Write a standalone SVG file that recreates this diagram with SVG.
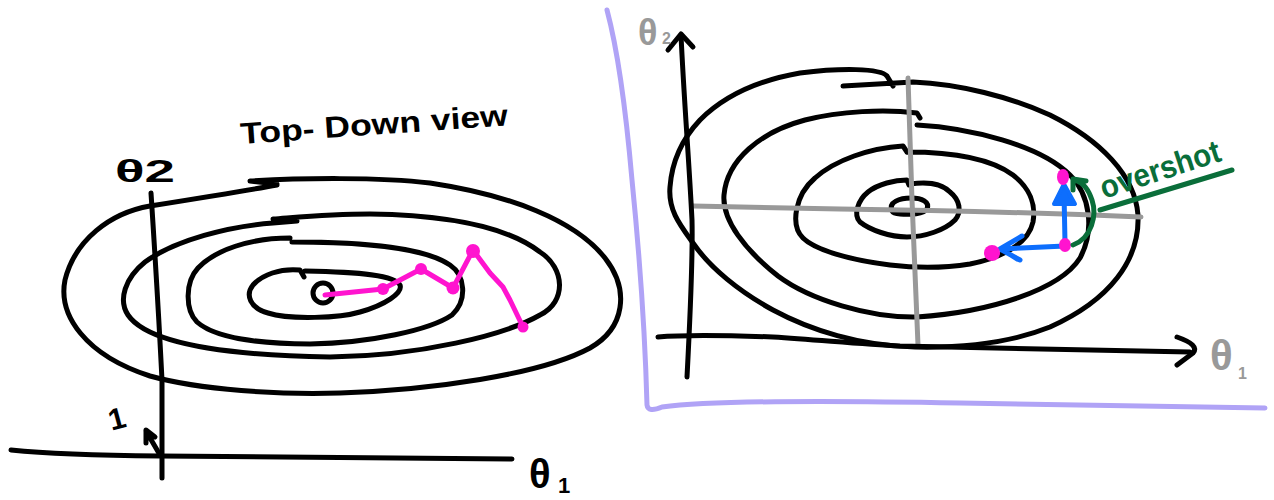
<svg xmlns="http://www.w3.org/2000/svg" width="1274" height="500" viewBox="0 0 1274 500">
<style>
.ink{fill:none;stroke:#000;stroke-width:5;stroke-linecap:round;stroke-linejoin:round}
.gray{fill:none;stroke:#999;stroke-width:5;stroke-linecap:round;stroke-linejoin:round}
.mag{fill:none;stroke:#ff14cf;stroke-width:5;stroke-linecap:round;stroke-linejoin:round}
.dot{fill:#ff14cf}
.blue{fill:none;stroke:#0d6efd;stroke-width:5;stroke-linecap:round;stroke-linejoin:round}
.green{fill:none;stroke:#0a6e3a;stroke-width:5;stroke-linecap:round;stroke-linejoin:round}
.purple{fill:none;stroke:#b0a3f6;stroke-width:5;stroke-linecap:round;stroke-linejoin:round}
.hand{font-family:"Liberation Sans","DejaVu Sans",sans-serif;font-weight:bold}
</style>
<rect width="1274" height="500" fill="#fff"/>

<!-- LEFT PANEL -->
<g id="left-contours">
<path class="ink" d="M 277 185 C 250 190, 200 198, 150 206 C 110 213, 75 240, 65 280 C 58 315, 85 355, 150 376 C 200 390, 280 395, 340 393 C 430 390, 540 375, 590 348 C 625 328, 630 290, 605 258 C 575 220, 510 195, 430 183 C 380 177, 300 178, 250 181 L 277 184"/>
<path class="ink" d="M 297 221 L 273 223 C 230 226, 175 240, 145 262 C 125 278, 118 300, 128 315 C 145 340, 210 355, 330 357 C 420 356, 505 335, 540 315 C 567 302, 565 268, 540 252 C 505 225, 440 215, 370 214 C 330 214, 300 217, 273 219"/>
<path class="ink" d="M 290 238 C 250 238, 215 250, 198 268 C 185 282, 185 310, 197 322 C 215 338, 260 344, 310 344 C 370 343, 430 330, 452 315 C 468 300, 465 275, 450 265 C 425 248, 370 242, 292 242"/>
<path class="ink" d="M 304 277 L 300 270 C 280 268, 262 275, 253 285 C 245 295, 250 308, 268 313 C 290 320, 340 318, 360 312 C 385 305, 403 293, 400 285 C 395 275, 360 272, 305 271"/>
<circle class="ink" cx="323" cy="293" r="10"/>
</g>

<g id="left-axes">
<path class="ink" d="M 11 450 Q 60 455, 160 456 L 512 459"/>
<path class="ink" d="M 151 193 Q 158 300, 162 380 L 162 478"/>
<path class="ink" d="M 160 455 L 146 431 M 146 443 L 146 430 L 155 437"/>
</g>

<g id="left-path">
<path class="mag" d="M 325 295 L 383 289 L 421 269 L 453 288 L 473 250 L 490 273 L 503 287 L 510 300 L 523 327"/>
<circle class="dot" cx="383" cy="289" r="6"/>
<circle class="dot" cx="421" cy="269" r="6"/>
<circle class="dot" cx="453" cy="288" r="6.5"/>
<circle class="dot" cx="473" cy="251" r="7"/>
<circle class="dot" cx="523" cy="327" r="5.5"/>
</g>

<g id="left-labels">
<text class="hand" x="241" y="144" font-size="30" textLength="268" lengthAdjust="spacingAndGlyphs" transform="rotate(-4 241 144)">Top- Down view</text>
<text class="hand" x="115" y="182" font-size="32" textLength="60" lengthAdjust="spacingAndGlyphs">θ2</text>
<text class="hand" x="529" y="488" font-size="40">θ</text>
<text class="hand" x="558" y="493" font-size="22">1</text>
<text class="hand" x="108" y="428" font-size="30" transform="rotate(-15 120 416)">1</text>
</g>

<!-- RIGHT PANEL -->
<g id="frame">
<path class="purple" d="M 607 10 C 615 40, 625 100, 632 180 C 640 260, 645 330, 647 405 Q 648 413, 662 407 C 700 402, 800 400, 960 403 L 1265 408"/>
</g>

<g id="right-contours">
<path class="ink" d="M 843 86 L 913 82 C 960 84, 1010 97, 1050 115 C 1100 140, 1135 175, 1138 215 C 1140 260, 1110 300, 1050 327 C 1010 343, 960 348, 915 347 C 860 346, 810 330, 773 310 C 740 292, 710 268, 693 243 C 680 225, 668 210, 670 187 C 672 160, 683 138, 700 120 C 725 95, 760 80, 800 73 C 840 68, 880 68, 887 76 L 893 86"/>
<path class="ink" d="M 917 125 C 970 128, 1040 145, 1070 175 C 1090 195, 1095 230, 1080 258 C 1060 290, 990 312, 917 317 C 870 318, 810 300, 778 276 C 745 250, 722 220, 724 195 C 727 160, 760 132, 805 120 C 840 111, 885 109, 917 113 L 920 118"/>
<path class="ink" d="M 907 152 C 950 152, 990 158, 1013 175 C 1030 188, 1036 205, 1033 222 C 1028 245, 1000 258, 970 264 C 945 268, 915 268, 890 265 C 850 260, 815 250, 803 238 C 790 225, 795 195, 815 178 C 835 160, 870 148, 903 146 L 907 152"/>
<path class="ink" d="M 910 184 C 925 182, 940 182, 950 192 C 960 200, 962 212, 955 220 C 945 230, 925 237, 907 237 C 890 237, 870 230, 860 222 C 853 215, 858 200, 868 192 C 878 184, 895 180, 907 180 L 909 185"/>
<path class="ink" d="M 892 211 C 888 202, 900 198, 911 198 C 922 198, 930 202, 927 209 C 924 214, 910 215, 900 214 C 895 214, 893 213, 892 211 Z"/>
</g>

<g id="right-axes">
<path class="gray" d="M 693 206 L 840 209 Q 1000 211, 1141 217"/>
<path class="gray" d="M 908 78 L 912 200 L 918 345"/>
<path class="ink" d="M 687 377 C 690 320, 693 260, 692 220 C 689 160, 684 100, 681 35"/>
<path class="ink" d="M 668 50 L 681 34 L 693 47"/>
<path class="ink" d="M 658 337 C 680 335, 720 335, 773 337 C 820 340, 860 344, 900 346 C 960 348, 1060 350, 1190 352"/>
<path class="ink" d="M 1177 337 Q 1200 345, 1193 353 L 1177 365"/>
</g>

<g id="right-steps">
<path class="blue" d="M 1065 243 L 1064 192"/>
<path d="M 1054 204 L 1064 184 L 1075 204 Z" fill="#0d6efd" stroke="#0d6efd" stroke-width="4" stroke-linejoin="round"/>
<path class="blue" d="M 1065 246 L 1000 249 M 1022 236 L 1000 249 L 1020 260 M 1006 252 L 1017 259"/>
<ellipse class="dot" cx="1063" cy="177" rx="6" ry="8"/>
<ellipse class="dot" cx="1065" cy="245" rx="6" ry="7"/>
<circle class="dot" cx="992" cy="253" r="8"/>
<path class="green" d="M 1073 245 C 1092 238, 1097 215, 1092 200 C 1088 188, 1083 183, 1077 181 M 1073 190 L 1073 179 L 1086 181"/>
<path class="green" d="M 1100 210 L 1232 170"/>
<text class="hand" x="1104" y="199" font-size="32" fill="#0a6e3a" textLength="125" lengthAdjust="spacingAndGlyphs" transform="rotate(-18 1104 199)">overshot</text>
</g>

<g id="right-labels">
<text class="hand" x="638" y="45" font-size="36" fill="#999">θ</text>
<text class="hand" x="662" y="44" font-size="16" fill="#999">2</text>
<text class="hand" x="1210" y="370" font-size="42" fill="#999">θ</text>
<text class="hand" x="1238" y="379" font-size="16" fill="#999">1</text>
</g>
</svg>
